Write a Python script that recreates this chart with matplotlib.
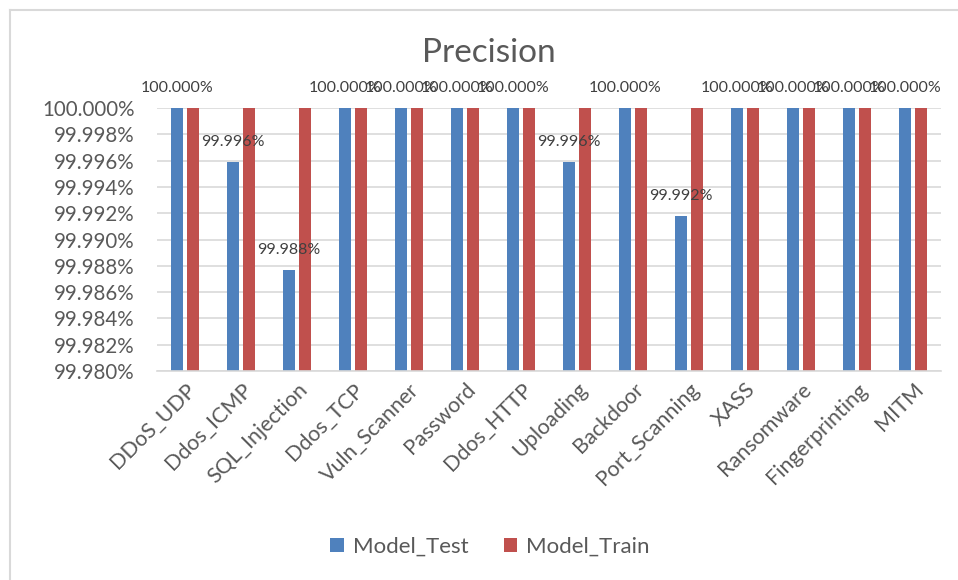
import matplotlib
matplotlib.use("Agg")
import matplotlib.pyplot as plt
from matplotlib.lines import Line2D
from matplotlib.ticker import FuncFormatter, MultipleLocator
import numpy as np

plt.rcParams['font.family'] = ['Lato', 'DejaVu Sans']

categories = ["DDoS_UDP", "Ddos_ICMP", "SQL_Injection", "Ddos_TCP", "Vuln_Scanner",
              "Password", "Ddos_HTTP", "Uploading", "Backdoor", "Port_Scanning",
              "XASS", "Ransomware", "Fingerprinting", "MITM"]
model_test = [100.000, 99.9959, 99.9877, 100.000, 100.000, 100.000, 100.000,
              99.9959, 100.000, 99.9918, 100.000, 100.000, 100.000, 100.000]
model_train = [100.000] * 14

blue = "#4F81BD"
red = "#C0504D"
text_gray = "#595959"

W, H = 958, 580
fig = plt.figure(figsize=(W / 100, H / 100), dpi=100)
fig.patch.set_facecolor("white")

# chart frame (top and left edges)
fig.add_artist(Line2D([10 / W, 1.0], [1 - 10 / H, 1 - 10 / H], color="#D9D9D9", lw=1.5))
fig.add_artist(Line2D([10 / W, 10 / W], [0.0, 1 - 10 / H], color="#D9D9D9", lw=1.5))

ax = fig.add_axes([157 / W, 1 - 371 / H, (941 - 157) / W, (371 - 108) / H])

x = np.arange(len(categories))
bw = 0.22
off = 0.14
base = 99.98
ax.bar(x - off, np.array(model_test) - base, bw, bottom=base, color=blue,
       label="Model_Test", zorder=3)
ax.bar(x + off, np.array(model_train) - base, bw, bottom=base, color=red,
       label="Model_Train", zorder=3)

ax.set_ylim(99.980, 100.000)
ax.set_xlim(-0.5, len(categories) - 0.5)
ax.yaxis.set_major_locator(MultipleLocator(0.002))
ax.yaxis.set_major_formatter(FuncFormatter(lambda v, p: f"{v:.3f}%"))
ax.grid(axis="y", color="#D9D9D9", lw=1.2, zorder=0)
ax.set_axisbelow(True)
for s in ["top", "right", "left"]:
    ax.spines[s].set_visible(False)
ax.spines["bottom"].set_color("#D9D9D9")
ax.spines["bottom"].set_linewidth(1.2)
ax.spines["bottom"].set_zorder(4)
ax.tick_params(axis="both", length=0, colors=text_gray, labelsize=14.8)
ax.tick_params(axis="y", pad=16)
ax.set_xticks(x)
ax.set_xticklabels(categories, rotation=45, ha="right", rotation_mode="anchor",
                   fontsize=15.5, color=text_gray)
ax.tick_params(axis="x", pad=6)

for xi, v in zip(x, model_test):
    ax.annotate(f"{v:.3f}%", (xi - off, v), xytext=(0, 9), textcoords="offset points",
                ha="center", va="bottom", fontsize=11.5, color="#404040",
                annotation_clip=False, zorder=5)

fig.text(489 / W, 1 - 53 / H, "Precision", ha="center", va="center",
         fontsize=24, color=text_gray)

leg = fig.legend(loc="center", bbox_to_anchor=(490 / W, 1 - 547 / H), ncol=2,
                 frameon=False, fontsize=16, handlelength=0.6, handleheight=0.6,
                 columnspacing=1.6, handletextpad=0.4)
for t in leg.get_texts():
    t.set_color(text_gray)

fig.savefig("out.png", dpi=100)
